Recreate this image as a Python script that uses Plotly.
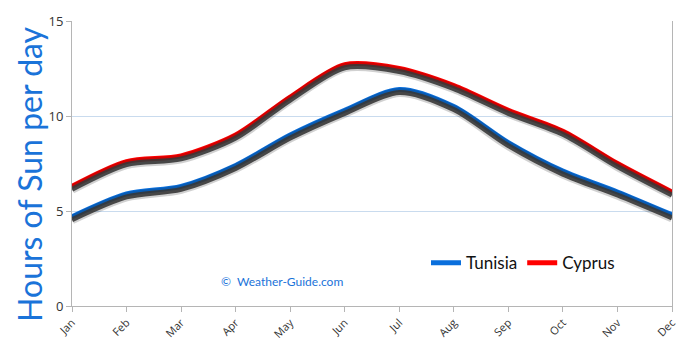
import plotly.graph_objects as go

months = ["Jan", "Feb", "Mar", "Apr", "May", "Jun", "Jul", "Aug", "Sep", "Oct", "Nov", "Dec"]
tunisia = [4.7, 5.9, 6.3, 7.4, 9.0, 10.3, 11.4, 10.5, 8.6, 7.1, 6.0, 4.8]
cyprus = [6.3, 7.6, 7.9, 9.0, 11.0, 12.7, 12.5, 11.6, 10.3, 9.2, 7.5, 6.0]
series = [("Tunisia", tunisia, "#0a6fdc"), ("Cyprus", cyprus, "#ff0000")]

x = list(range(len(months)))
fig = go.Figure()

# shadows on a slightly shifted overlay axis (drawn a few pixels lower)
for name, vals, col in series:
    fig.add_trace(go.Scatter(x=x, y=vals, mode="lines", yaxis="y2",
                             line=dict(color="rgba(0,0,0,0.18)", width=9, shape="spline", smoothing=0.8),
                             showlegend=False, hoverinfo="skip"))
    fig.add_trace(go.Scatter(x=x, y=vals, mode="lines", yaxis="y2",
                             line=dict(color="rgba(55,55,55,0.9)", width=5, shape="spline", smoothing=0.8),
                             showlegend=False, hoverinfo="skip"))
for name, vals, col in series:
    fig.add_trace(go.Scatter(x=x, y=vals, mode="lines", name=name,
                             line=dict(color=col, width=5, shape="spline", smoothing=0.8)))

fig.update_layout(
    width=690, height=353,
    margin=dict(l=72, r=18, t=19, b=44),
    paper_bgcolor="white", plot_bgcolor="white",
    font=dict(family="Open Sans", color="#333"),
    xaxis=dict(range=[0, 11], tickvals=x, ticktext=months, tickangle=-45,
               showgrid=False, showline=True, linecolor="#b5b5b5", linewidth=1,
               ticks="outside", ticklen=5, tickcolor="#b5b5b5",
               tickfont=dict(size=11, color="#333"), zeroline=False),
    yaxis=dict(range=[0, 15], tickvals=[0, 5, 10, 15], showgrid=True,
               gridcolor="#c9dbee", gridwidth=1, showline=True, linecolor="#b5b5b5",
               mirror=True, ticks="outside", ticklen=5, tickcolor="#b5b5b5",
               tickfont=dict(size=13, color="#333"), zeroline=False),
    yaxis2=dict(range=[0.16, 15.16], overlaying="y", visible=False),
    legend=dict(orientation="h", x=0.59, y=0.15, xanchor="left", yanchor="middle",
                font=dict(size=17, color="#111", family="Lato"), bgcolor="rgba(0,0,0,0)",
                itemwidth=30, traceorder="normal"),
    showlegend=True,
    annotations=[
        dict(text="©  Weather-Guide.com", xref="paper", yref="paper",
             x=0.245, y=0.085, xanchor="left", yanchor="middle", showarrow=False,
             font=dict(size=12, color="#1a73d9", family="Lato")),
        dict(text="Hours of Sun per day", xref="paper", yref="paper", textangle=-90,
             x=-0.07, y=0.46, xanchor="center", yanchor="middle", showarrow=False,
             font=dict(size=32, color="#1a73d9", family="Lato")),
    ],
)

fig.write_html("out.html")
